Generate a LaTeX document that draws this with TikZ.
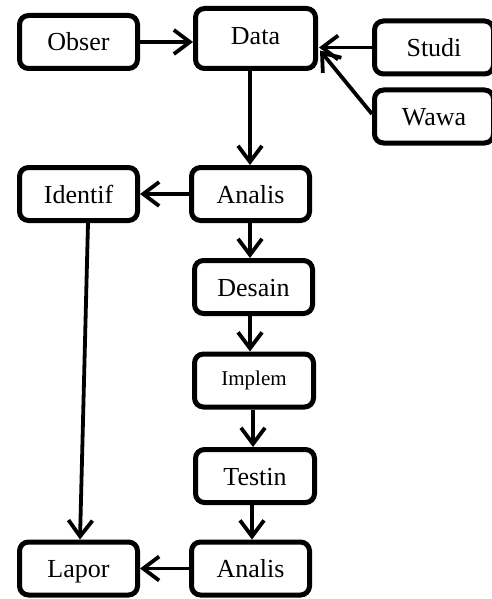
\documentclass[tikz,border=0pt]{standalone}
\usepackage{fontspec}
\setmainfont{Liberation Serif}
\usetikzlibrary{arrows.meta}
\begin{document}
\begin{tikzpicture}[x=1pt,y=-1pt,
  box/.style={draw, line width=5pt, rounded corners=9pt, minimum width=118pt, minimum height=53pt, inner sep=0pt, text height=20pt, text depth=2pt, font=\fontsize{26}{28}\selectfont},
  conn/.style={line width=3.8pt, -{Straight Barb[length=16pt,width=24pt,line width=3.8pt]}}]
\useasboundingbox (0,0) rectangle (492,599);
\node[box] (obser) at (78.5,42) {Obser};
\node[box, minimum width=120pt, minimum height=60pt, text height=17pt, text depth=4pt] (data) at (255.5,38.5) {Data};
\node[box, minimum width=119pt] (studi) at (434,47.5) {Studi};
\node[box, minimum width=119pt] (wawa) at (434,116.5) {Wawa};
\node[box] (identif) at (78.5,194) {Identif};
\node[box] (analis) at (250.5,194) {Analis};
\node[box] (desain) at (253.5,287) {Desain};
\node[box, minimum width=119pt, text height=15pt, text depth=6pt, font=\fontsize{21}{23}\selectfont] (implem) at (254,380.5) {Implem};
\node[box, minimum width=119pt] (testin) at (255,476) {Testin};
\node[box] (analis2) at (250.5,568.5) {Analis};
\node[box] (lapor) at (78.5,568.5) {Lapor};

\draw[conn] (obser.east) -- (obser.east -| data.west);
\draw[conn] (studi.west) -- ([xshift=1pt]studi.west -| data.east);
\draw[conn] (wawa.west |- 0,114) -- ([shift={(2pt,-12pt)}]data.east);
\draw[conn] (data.south -| 250,0) -- (analis.north -| 250,0);
\draw[conn] (analis.west) -- (analis.west -| identif.east);
\draw[conn] (analis.south -| 250,0) -- (desain.north -| 250,0);
\draw[conn] (desain.south -| 250,0) -- (implem.north -| 250,0);
\draw[conn] (implem.south -| 253,0) -- (testin.north -| 253,0);
\draw[conn] (testin.south -| 252,0) -- (analis2.north -| 252,0);
\draw[conn] (analis2.west) -- (analis2.west -| lapor.east);
\draw[conn] (identif.south -| 88,0) -- (lapor.north -| 80,0);
\end{tikzpicture}
\end{document}
